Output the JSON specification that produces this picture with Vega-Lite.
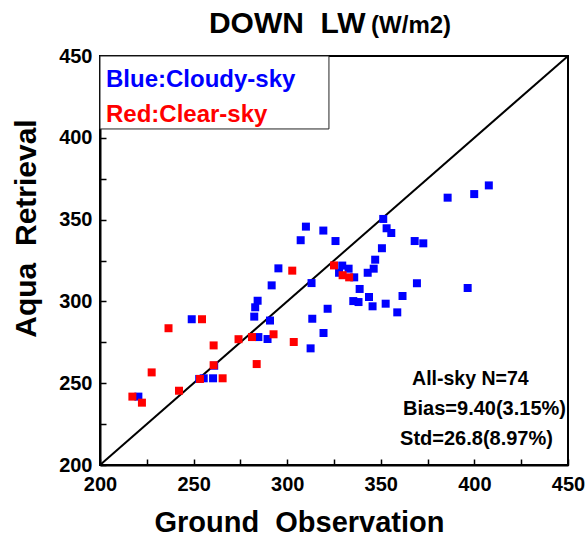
{
  "$schema": "https://vega.github.io/schema/vega-lite/v6.json",
  "width": 468,
  "height": 409,
  "autosize": {"type": "none"},
  "padding": {"left": 100, "top": 56, "right": 19, "bottom": 72},
  "background": "white",
  "config": {
    "view": {"stroke": "black", "strokeWidth": 2},
    "font": "Liberation Sans",
    "axis": {
      "domainColor": "black",
      "domainWidth": 2,
      "tickColor": "black",
      "tickWidth": 1.5,
      "grid": false,
      "labelFlush": false,
      "labelOverlap": false,
      "labelFont": "Liberation Sans",
      "labelFontWeight": "bold",
      "labelFontSize": 20,
      "labelColor": "black",
      "titleFont": "Liberation Sans",
      "titleFontWeight": "bold",
      "titleColor": "black"
    }
  },
  "datasets": {
    "points": [
      {"obs": 295.3, "ret": 320.2, "sky": "Cloudy"},
      {"obs": 291.7, "ret": 309.8, "sky": "Cloudy"},
      {"obs": 284.2, "ret": 300.4, "sky": "Cloudy"},
      {"obs": 282.9, "ret": 296.4, "sky": "Cloudy"},
      {"obs": 282.4, "ret": 290.7, "sky": "Cloudy"},
      {"obs": 290.8, "ret": 288.3, "sky": "Cloudy"},
      {"obs": 249.0, "ret": 289.1, "sky": "Cloudy"},
      {"obs": 284.6, "ret": 278.2, "sky": "Cloudy"},
      {"obs": 289.5, "ret": 277.0, "sky": "Cloudy"},
      {"obs": 261.0, "ret": 260.7, "sky": "Cloudy"},
      {"obs": 253.0, "ret": 252.6, "sky": "Cloudy"},
      {"obs": 255.4, "ret": 253.0, "sky": "Cloudy"},
      {"obs": 260.4, "ret": 253.0, "sky": "Cloudy"},
      {"obs": 220.5, "ret": 241.8, "sky": "Cloudy"},
      {"obs": 310.0, "ret": 345.7, "sky": "Cloudy"},
      {"obs": 319.3, "ret": 343.3, "sky": "Cloudy"},
      {"obs": 307.2, "ret": 337.4, "sky": "Cloudy"},
      {"obs": 325.8, "ret": 336.9, "sky": "Cloudy"},
      {"obs": 351.3, "ret": 350.4, "sky": "Cloudy"},
      {"obs": 353.1, "ret": 344.7, "sky": "Cloudy"},
      {"obs": 355.6, "ret": 341.8, "sky": "Cloudy"},
      {"obs": 368.1, "ret": 336.9, "sky": "Cloudy"},
      {"obs": 372.7, "ret": 335.5, "sky": "Cloudy"},
      {"obs": 350.6, "ret": 332.5, "sky": "Cloudy"},
      {"obs": 347.0, "ret": 325.5, "sky": "Cloudy"},
      {"obs": 346.2, "ret": 320.0, "sky": "Cloudy"},
      {"obs": 343.0, "ret": 317.5, "sky": "Cloudy"},
      {"obs": 329.4, "ret": 321.9, "sky": "Cloudy"},
      {"obs": 332.8, "ret": 320.0, "sky": "Cloudy"},
      {"obs": 327.7, "ret": 317.5, "sky": "Cloudy"},
      {"obs": 335.8, "ret": 314.7, "sky": "Cloudy"},
      {"obs": 313.0, "ret": 311.2, "sky": "Cloudy"},
      {"obs": 338.7, "ret": 307.6, "sky": "Cloudy"},
      {"obs": 343.7, "ret": 302.7, "sky": "Cloudy"},
      {"obs": 335.3, "ret": 300.2, "sky": "Cloudy"},
      {"obs": 338.1, "ret": 299.6, "sky": "Cloudy"},
      {"obs": 345.6, "ret": 297.0, "sky": "Cloudy"},
      {"obs": 352.6, "ret": 298.6, "sky": "Cloudy"},
      {"obs": 361.6, "ret": 303.3, "sky": "Cloudy"},
      {"obs": 369.3, "ret": 311.1, "sky": "Cloudy"},
      {"obs": 358.8, "ret": 293.3, "sky": "Cloudy"},
      {"obs": 321.6, "ret": 295.5, "sky": "Cloudy"},
      {"obs": 313.4, "ret": 289.4, "sky": "Cloudy"},
      {"obs": 319.4, "ret": 280.7, "sky": "Cloudy"},
      {"obs": 312.5, "ret": 271.3, "sky": "Cloudy"},
      {"obs": 385.7, "ret": 363.4, "sky": "Cloudy"},
      {"obs": 399.9, "ret": 365.6, "sky": "Cloudy"},
      {"obs": 407.7, "ret": 370.9, "sky": "Cloudy"},
      {"obs": 396.4, "ret": 308.2, "sky": "Cloudy"},
      {"obs": 302.7, "ret": 318.8, "sky": "Clear"},
      {"obs": 254.5, "ret": 289.1, "sky": "Clear"},
      {"obs": 236.6, "ret": 283.6, "sky": "Clear"},
      {"obs": 260.7, "ret": 273.1, "sky": "Clear"},
      {"obs": 274.0, "ret": 276.9, "sky": "Clear"},
      {"obs": 281.2, "ret": 278.2, "sky": "Clear"},
      {"obs": 292.7, "ret": 279.9, "sky": "Clear"},
      {"obs": 283.7, "ret": 261.7, "sky": "Clear"},
      {"obs": 260.7, "ret": 261.0, "sky": "Clear"},
      {"obs": 227.6, "ret": 256.6, "sky": "Clear"},
      {"obs": 253.4, "ret": 252.6, "sky": "Clear"},
      {"obs": 265.5, "ret": 253.0, "sky": "Clear"},
      {"obs": 242.2, "ret": 245.4, "sky": "Clear"},
      {"obs": 217.3, "ret": 241.8, "sky": "Clear"},
      {"obs": 222.4, "ret": 238.1, "sky": "Clear"},
      {"obs": 325.0, "ret": 322.0, "sky": "Clear"},
      {"obs": 329.6, "ret": 316.0, "sky": "Clear"},
      {"obs": 333.1, "ret": 314.7, "sky": "Clear"},
      {"obs": 303.5, "ret": 275.2, "sky": "Clear"}
    ],
    "diagonal": [
      {"obs": 200, "ret": 200},
      {"obs": 450, "ret": 450}
    ]
  },
  "layer": [
    {
      "data": {"name": "diagonal"},
      "mark": {"type": "line", "color": "black", "strokeWidth": 2},
      "encoding": {
        "x": {
          "field": "obs", "type": "quantitative",
          "scale": {"domain": [200, 450], "nice": false, "zero": false},
          "axis": {
            "title": "Ground\u00a0\u00a0Observation",
            "titleFontSize": 29,
            "values": [200, 225, 250, 275, 300, 325, 350, 375, 400, 425, 450],
            "labelExpr": "datum.value % 50 === 0 ? datum.label : ''",
            "tickSize": -6,
            "labelPadding": 15,
            "titleX": 199,
            "titleY": 66,
            "titleBaseline": "alphabetic",
            "titleAlign": "center"
          }
        },
        "y": {
          "field": "ret", "type": "quantitative",
          "scale": {"domain": [200, 450], "nice": false, "zero": false},
          "axis": {
            "title": "Aqua\u00a0\u00a0Retrieval",
            "titleFontSize": 30,
            "values": [200, 225, 250, 275, 300, 325, 350, 375, 400, 425, 450],
            "labelExpr": "datum.value % 50 === 0 ? datum.label : ''",
            "tickSize": -6,
            "labelPadding": 14,
            "titleX": -65,
            "titleY": 172,
            "titleAngle": -90,
            "titleBaseline": "alphabetic",
            "titleAlign": "center"
          }
        }
      }
    },
    {
      "data": {"name": "points"},
      "mark": {"type": "square", "filled": true, "opacity": 1, "size": 64},
      "encoding": {
        "x": {"field": "obs", "type": "quantitative"},
        "y": {"field": "ret", "type": "quantitative"},
        "color": {
          "field": "sky", "type": "nominal",
          "scale": {"domain": ["Cloudy", "Clear"], "range": ["#0000FF", "#FF0000"]},
          "legend": null
        }
      }
    },
    {
      "data": {"values": [{}]},
      "mark": {"type": "rect", "fill": "white", "stroke": "#222222", "strokeWidth": 1},
      "encoding": {
        "x": {"datum": 200}, "x2": {"datum": 322.3},
        "y": {"datum": 450}, "y2": {"datum": 405.4}
      }
    },
    {
      "data": {"values": [{}]},
      "mark": {"type": "text", "text": "Blue:Cloudy-sky", "align": "left", "baseline": "alphabetic", "fontSize": 24, "fontWeight": "bold", "color": "#0000FF", "font": "Liberation Sans"},
      "encoding": {"x": {"datum": 203.2}, "y": {"datum": 431.0}}
    },
    {
      "data": {"values": [{}]},
      "mark": {"type": "text", "text": "Red:Clear-sky", "align": "left", "baseline": "alphabetic", "fontSize": 24, "fontWeight": "bold", "color": "#FF0000", "font": "Liberation Sans"},
      "encoding": {"x": {"datum": 203.2}, "y": {"datum": 409.7}}
    },
    {
      "data": {"values": [{}]},
      "mark": {"type": "text", "text": "All-sky N=74", "align": "left", "baseline": "alphabetic", "fontSize": 19.5, "fontWeight": "bold", "color": "black", "font": "Liberation Sans"},
      "encoding": {"x": {"datum": 366.7}, "y": {"datum": 248.9}}
    },
    {
      "data": {"values": [{}]},
      "mark": {"type": "text", "text": "Bias=9.40(3.15%)", "align": "left", "baseline": "alphabetic", "fontSize": 20, "fontWeight": "bold", "color": "black", "font": "Liberation Sans"},
      "encoding": {"x": {"datum": 361.9}, "y": {"datum": 230.6}}
    },
    {
      "data": {"values": [{}]},
      "mark": {"type": "text", "text": "Std=26.8(8.97%)", "align": "left", "baseline": "alphabetic", "fontSize": 20, "fontWeight": "bold", "color": "black", "font": "Liberation Sans"},
      "encoding": {"x": {"datum": 360.3}, "y": {"datum": 212.2}}
    },
    {
      "data": {"values": [{}]},
      "mark": {"type": "text", "text": "DOWN\u00a0\u00a0LW", "align": "left", "baseline": "alphabetic", "fontSize": 30, "fontWeight": "bold", "color": "black", "font": "Liberation Sans"},
      "encoding": {"x": {"datum": 258.2}, "y": {"datum": 464.1}}
    },
    {
      "data": {"values": [{}]},
      "mark": {"type": "text", "text": "(W/m2)", "align": "left", "baseline": "alphabetic", "fontSize": 24, "fontWeight": "bold", "color": "black", "font": "Liberation Sans"},
      "encoding": {"x": {"datum": 344.8}, "y": {"datum": 464.1}}
    }
  ]
}
